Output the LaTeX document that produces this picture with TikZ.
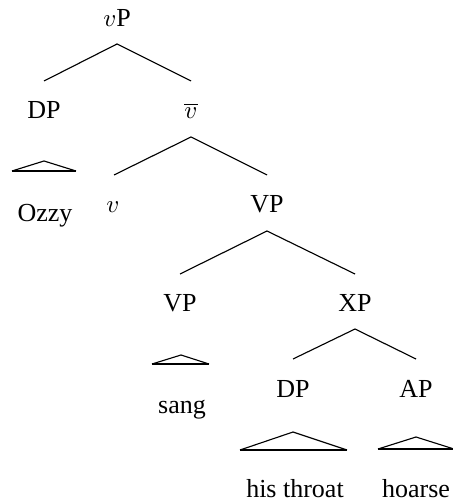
\documentclass[tikz,border=0pt]{standalone}
\usepackage{fontspec}
\setmainfont{Liberation Serif}
\usetikzlibrary{calc}
\begin{document}
\fontsize{10.4}{12}\selectfont
\begin{tikzpicture}[x=0.4pt,y=-0.4pt,
  lbl/.style={anchor=base,inner sep=0pt},
  branch/.style={line width=0.45pt},
  roofbase/.style={line width=1.1pt}]
 \useasboundingbox (0,0) rectangle (452,504);

 \node (node_vP) at (117,27) [lbl] {$v$P};
 \node (node_DP1) at (44,119) [lbl] {DP};
 \node (node_vbar) at (191,119) [lbl] {$\overline{v}$};
 \node (node_Ozzy) at (45,222) [lbl] {Ozzy};
 \node (node_v) at (113,213) [lbl] {$v$};
 \node (node_VP1) at (267,213) [lbl] {VP};
 \node (node_VP2) at (180,312) [lbl] {VP};
 \node (node_XP) at (355,312) [lbl] {XP};
 \node (node_sang) at (182,413) [lbl] {sang};
 \node (node_DP2) at (293,397) [lbl] {DP};
 \node (node_AP) at (416,397) [lbl] {AP};
 \node (node_throat) at (295,497) [lbl] {his throat};
 \node (node_hoarse) at (416,497) [lbl] {hoarse};

  \draw [branch] ($(node_vP.base)+(0,17)$) -- ($(node_DP1.base)+(0,-38)$);
  \draw [branch] ($(node_vP.base)+(0,17)$) -- ($(node_vbar.base)+(0,-38)$);
  \draw [branch] ($(node_vbar.base)+(0,18)$) -- ($(node_v.base)+(1,-38)$);
  \draw [branch] ($(node_vbar.base)+(0,18)$) -- ($(node_VP1.base)+(0,-38)$);
  \draw [branch] ($(node_VP1.base)+(0,18)$) -- ($(node_VP2.base)+(0,-38)$);
  \draw [branch] ($(node_VP1.base)+(0,18)$) -- ($(node_XP.base)+(0,-38)$);
  \draw [branch] ($(node_XP.base)+(0,17)$) -- ($(node_DP2.base)+(0,-38)$);
  \draw [branch] ($(node_XP.base)+(0,17)$) -- ($(node_AP.base)+(0,-38)$);

  % roofs
  \draw [branch] ($(node_DP1.base)+(-32,52)$) -- ($(node_DP1.base)+(0,42)$) -- ($(node_DP1.base)+(32,52)$);
  \draw [roofbase] ($(node_DP1.base)+(-32,52)$) -- ($(node_DP1.base)+(32,52)$);
  \draw [branch] ($(node_VP2.base)+(-28,52)$) -- ($(node_VP2.base)+(1,43)$) -- ($(node_VP2.base)+(29,52)$);
  \draw [roofbase] ($(node_VP2.base)+(-28,52)$) -- ($(node_VP2.base)+(29,52)$);
  \draw [branch] ($(node_DP2.base)+(-53,53)$) -- ($(node_DP2.base)+(0,35)$) -- ($(node_DP2.base)+(54,53)$);
  \draw [roofbase] ($(node_DP2.base)+(-53,53)$) -- ($(node_DP2.base)+(54,53)$);
  \draw [branch] ($(node_AP.base)+(-38,52)$) -- ($(node_AP.base)+(0,40)$) -- ($(node_AP.base)+(38,52)$);
  \draw [roofbase] ($(node_AP.base)+(-38,52)$) -- ($(node_AP.base)+(38,52)$);
\end{tikzpicture}
\end{document}
